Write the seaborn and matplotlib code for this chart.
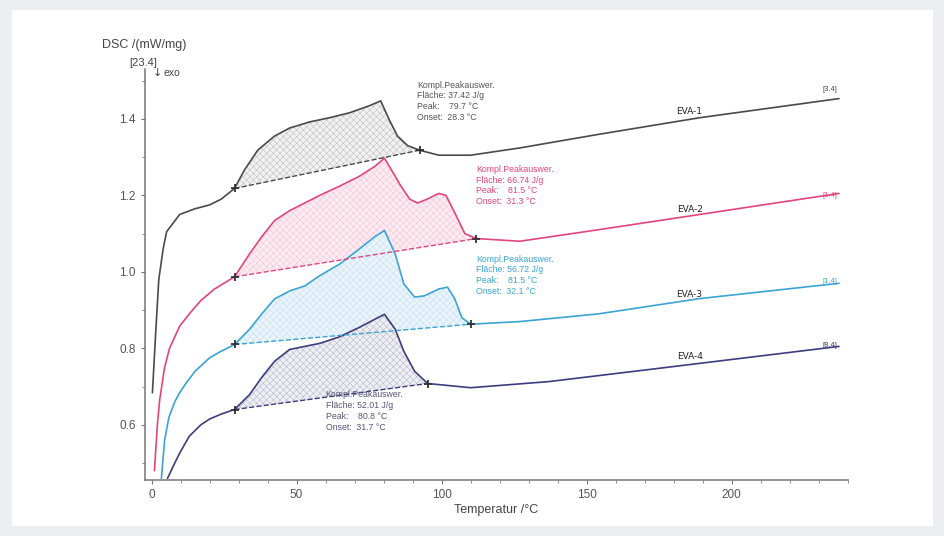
import numpy as np
import pandas as pd
import matplotlib
matplotlib.use('Agg')
import matplotlib.pyplot as plt
import seaborn as sns
from matplotlib.patches import Rectangle
from matplotlib.ticker import MultipleLocator

# DSC curves (Temperatur /°C -> DSC /(mW/mg))
temp_eva1 = [0.3, 1.5, 2.5, 4, 5.2, 9.7, 15, 20, 24, 28.6, 32, 36.6, 42.4, 47.6, 54.5,
             61.4, 68.3, 75, 79, 82, 84.8, 88.3, 92.4, 99, 110, 127, 154.5, 189, 237]
dsc_eva1 = [0.684, 0.85, 0.98, 1.06, 1.105, 1.15, 1.165, 1.175, 1.19, 1.218, 1.266, 1.318, 1.355, 1.376, 1.392,
            1.403, 1.416, 1.434, 1.447, 1.397, 1.355, 1.33, 1.318, 1.305, 1.305, 1.324, 1.36, 1.403, 1.453]

temp_eva2 = [1.0, 2.0, 2.8, 4.5, 6.2, 9.7, 13, 17, 21.7, 28.6, 33.8, 38, 42.4, 47.6, 52.8, 58, 64.8,
             71.7, 77, 80.3, 84, 85.5, 89, 91.7, 95, 99, 101.5, 104.5, 108, 112, 127, 154, 189, 237]
dsc_eva2 = [0.48, 0.60, 0.665, 0.75, 0.80, 0.858, 0.89, 0.925, 0.955, 0.987, 1.047, 1.092, 1.134, 1.16, 1.18, 1.20, 1.224,
            1.25, 1.276, 1.297, 1.25, 1.23, 1.19, 1.18, 1.19, 1.205, 1.20, 1.155, 1.10, 1.087, 1.08, 1.11, 1.15, 1.205]

temp_eva3 = [3.4, 4.5, 6, 8, 9.7, 12, 15, 20, 23.4, 28.6, 33.8, 38, 42.4, 47.6, 52.8, 58, 64.8, 71.7,
             77, 80.3, 84, 87, 90.7, 94, 99, 102, 104.5, 107, 110, 127, 154, 189, 237]
dsc_eva3 = [0.46, 0.56, 0.62, 0.66, 0.684, 0.71, 0.74, 0.775, 0.79, 0.81, 0.85, 0.89, 0.929, 0.95, 0.963, 0.99, 1.02, 1.06,
            1.092, 1.108, 1.047, 0.968, 0.934, 0.937, 0.955, 0.96, 0.93, 0.88, 0.863, 0.87, 0.89, 0.93, 0.97]

temp_eva4 = [5.5, 8, 9.7, 13, 17, 20, 24, 28.6, 33.8, 38, 42.4, 47.6, 52.8, 58, 64.8, 71.7, 77, 80.3,
             84, 87, 90.7, 95.2, 110, 137, 172, 237]
dsc_eva4 = [0.46, 0.50, 0.526, 0.57, 0.60, 0.615, 0.628, 0.64, 0.679, 0.724, 0.766, 0.797, 0.805, 0.813, 0.83, 0.855, 0.876, 0.889,
            0.85, 0.792, 0.74, 0.708, 0.697, 0.713, 0.745, 0.805]

samples = ['EVA-1', 'EVA-2', 'EVA-3', 'EVA-4']
# peak-evaluation baselines (start / end points)
base_t0 = [28.6, 28.6, 28.6, 28.6]
base_d0 = [1.218, 0.987, 0.81, 0.64]
base_t1 = [92.4, 112, 110, 95.2]
base_d1 = [1.318, 1.087, 0.863, 0.708]
ann_area = ['37.42', '66.74', '56.72', '52.01']
ann_peak = ['79.7', '81.5', '81.5', '80.8']
ann_onset = ['28.3', '31.3', '32.1', '31.7']
end_tags = ['[3.4]', '[1.4]', '[1.4]', '[8.4]']

colors = ['#4a4a4a', '#e2457c', '#3aa4d4', '#3c3d7e']
fills = ['#f1f1f1', '#fcebf1', '#eaf4fa', '#eeeef3']
hatch_cols = ['#b4b4b4', '#f3bdd0', '#bcdcef', '#a9a9c2']
text_cols = ['#555555', '#e2457c', '#3aa4d4', '#55557a']

temps = [temp_eva1, temp_eva2, temp_eva3, temp_eva4]
dscs = [dsc_eva1, dsc_eva2, dsc_eva3, dsc_eva4]
df = pd.concat([pd.DataFrame({'temp': t, 'dsc': d, 'sample': s}) for t, d, s in zip(temps, dscs, samples)])

sns.set_theme(style='white')
plt.rcParams['font.family'] = ['Liberation Sans', 'DejaVu Sans']
plt.rcParams['hatch.linewidth'] = 0.3

fig = plt.figure(figsize=(9.45, 5.36), dpi=100)
fig.patch.set_facecolor('#eceef1')
fig.add_artist(Rectangle((12 / 945, 10 / 536), 921 / 945, 516 / 536, transform=fig.transFigure,
                         facecolor='white', edgecolor='none', zorder=-5))
ax = fig.add_axes([0.153, 0.104, 0.744, 0.767])

sns.lineplot(data=df, x='temp', y='dsc', hue='sample', palette=colors, legend=False,
             linewidth=1.2, sort=False, ax=ax)

for i, s in enumerate(samples):
    t = np.array(temps[i])
    d = np.array(dscs[i])
    m = (t >= base_t0[i]) & (t <= base_t1[i])
    base = np.interp(t[m], [base_t0[i], base_t1[i]], [base_d0[i], base_d1[i]])
    ax.fill_between(t[m], base, d[m], facecolor=fills[i], hatch='xxxxx', edgecolor=hatch_cols[i],
                    linewidth=0, zorder=1)
    ax.plot([base_t0[i], base_t1[i]], [base_d0[i], base_d1[i]], ls='--', lw=1.0, color=colors[i],
            marker='+', ms=6, mew=1.3, mec='#333333', zorder=3)

# annotation texts
ann_pos = [(91.5, 1.50), (112, 1.28), (112, 1.045), (60, 0.69)]
for i in range(4):
    txt = (f'Kompl.Peakauswer.\nFläche: {ann_area[i]} J/g\nPeak:    {ann_peak[i]} °C\n'
           f'Onset:  {ann_onset[i]} °C')
    ax.text(*ann_pos[i], txt, fontsize=6.3, color=text_cols[i], va='top', ha='left', linespacing=1.25)

# sample names and end tags
name_y = [1.418, 1.163, 0.94, 0.778]
tag_y = [1.478, 1.2, 0.975, 0.808]
for i, s in enumerate(samples):
    ax.text(185.5, name_y[i], s, fontsize=6.5, color='#222222', ha='center', va='center',
            family=['DejaVu Sans'])
    ax.text(234, tag_y[i], end_tags[i], fontsize=5.5, color=colors[i], ha='center', va='center')

ax.set_xlim(-2.4, 240)
ax.set_ylim(0.455, 1.53)
ax.xaxis.set_major_locator(MultipleLocator(50))
ax.xaxis.set_minor_locator(MultipleLocator(10))
ax.yaxis.set_major_locator(MultipleLocator(0.2))
ax.yaxis.set_minor_locator(MultipleLocator(0.1))
ax.yaxis.set_major_formatter(matplotlib.ticker.FormatStrFormatter('%.1f'))
ax.tick_params(which='both', direction='out', colors='#777777', labelcolor='#555555', labelsize=8.5,
               bottom=True, left=True)
ax.tick_params(which='major', length=3, width=0.8)
ax.tick_params(which='minor', length=2, width=0.6)
for side in ['top', 'right']:
    ax.spines[side].set_visible(False)
for side in ['left', 'bottom']:
    ax.spines[side].set_color('#777777')
    ax.spines[side].set_linewidth(1.1)
ax.set_xlabel('Temperatur /°C', fontsize=9, color='#444444', labelpad=2)
ax.set_ylabel('')

fig.text(144 / 945, 1 - 45 / 536, 'DSC /(mW/mg)', fontsize=9, color='#444444', ha='center', va='center')
fig.text(157 / 945, 1 - 63 / 536, '[23.4]', fontsize=8, color='#444444', ha='right', va='center')
fig.text(157 / 945, 1 - 73 / 536, '↓', fontsize=8, color='#444444', ha='center', va='center',
         family=['DejaVu Sans'])
fig.text(163 / 945, 1 - 73 / 536, 'exo', fontsize=7.5, color='#444444', ha='left', va='center')

fig.savefig('out.png', dpi=100, facecolor=fig.get_facecolor())
